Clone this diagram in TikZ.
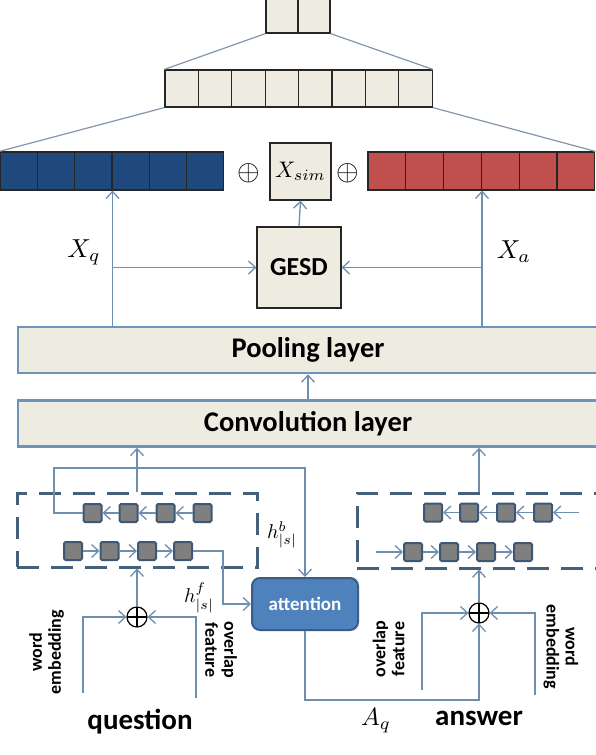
\documentclass[tikz,border=0pt]{standalone}
\usepackage{fontspec}
\setmainfont{Carlito}
\usepackage{tikz}
\usetikzlibrary{arrows.meta}
\definecolor{cellbg}{HTML}{EEECE1}
\definecolor{qblue}{HTML}{1F497D}
\definecolor{ared}{HTML}{C0504D}
\definecolor{linec}{HTML}{6F8FAF}
\definecolor{slantc}{HTML}{8497AA}
\definecolor{layerc}{HTML}{6F94BC}
\definecolor{sqfill}{HTML}{7F7F7F}
\definecolor{sqdraw}{HTML}{3D5874}
\definecolor{dashc}{HTML}{45607A}
\definecolor{attfill}{HTML}{4F81BD}
\definecolor{attdraw}{HTML}{385D8A}

\begin{document}
\begin{tikzpicture}[x=1pt,y=-1pt,
	arr/.style={draw=linec, line width=1.3pt, -{Straight Barb[length=7pt,width=13pt,line width=1.3pt]}},
	slant/.style={draw=slantc, line width=1.2pt},
	cell/.style={draw=black!85, line width=1.2pt, inner sep=0pt, minimum height=37pt},
	layer/.style={draw=layerc, line width=2.5pt, fill=cellbg, minimum width=580pt, minimum height=46pt, font=\fontsize{28.5}{32}\selectfont\bfseries},
	cellsq/.style={draw=sqdraw, line width=2pt, fill=sqfill, rounded corners=1.5pt, minimum size=18pt, inner sep=0pt},
	bilstm/.style={draw=dashc, line width=3pt, dash pattern=on 22pt off 12pt, inner sep=0pt},
	feat/.style={font=\fontsize{18}{19}\selectfont\bfseries, align=center, inner sep=0pt},
	title/.style={font=\fontsize{29}{32}\selectfont\bfseries, inner sep=0pt},
	lbl/.style={inner sep=0pt},
	sumnode/.style={draw=black, line width=1.2pt, circle, minimum size=20pt, inner sep=0pt,
		path picture={\draw[black, line width=1.2pt] (path picture bounding box.north) -- (path picture bounding box.south) (path picture bounding box.west) -- (path picture bounding box.east);}}]
	\path[use as bounding box, fill=white] (0,0) rectangle (596,755);
	% output layers
	\foreach \i in {1,2} \node[cell, fill=cellbg, minimum width=32pt, minimum height=34pt] (t\i) at (250+32*\i,16) {};
	\foreach \i in {1,...,8} \node[cell, fill=cellbg, minimum width=33.4pt] (m\i) at ({165+33.4*(\i-0.5)},88.5) {};
	\foreach \i in {1,...,6} \node[cell, fill=qblue, minimum width=37.3pt, minimum height=38pt] (xq\i) at ({37.3*(\i-0.5)},171) {};
	\foreach \i in {1,...,6} \node[cell, fill=ared, minimum width=37.8pt, minimum height=38pt] (xa\i) at ({368+37.8*(\i-0.5)},171) {};
	\draw[slant] (t1.south west) -- (m1.north west) (t2.south east) -- (m8.north east);
	\draw[slant] (m1.south west) -- (xq1.north west) (m8.south east) -- (xa6.north east);
	\node[cell, fill=cellbg, minimum width=61pt, minimum height=57pt] (xsim) at (300.5,171.5) {\scalebox{2.25}{$X_{sim}$}};
	\node[lbl] (op1) at (249,173) {\scalebox{2.9}{$\oplus$}};
	\node[lbl] (op2) at (348,173) {\scalebox{2.9}{$\oplus$}};
	% similarity and layers
	\node[cell, fill=cellbg, minimum width=84pt, minimum height=81pt, font=\fontsize{26}{30}\selectfont\bfseries] (gesd) at (299,267.5) {GESD};
	\node[layer] (pool) at (308,350) {Pooling layer};
	\node[layer] (conv) at (308,423.5) {Convolution layer};
	\draw[arr] (xq3.south east |- pool.north) -- (xq3.south east);
	\draw[arr] (xa3.south east |- pool.north) -- (xa3.south east);
	\draw[arr] (xq3.south east |- gesd.west) -- (gesd.west);
	\draw[arr] (xa3.south east |- gesd.east) -- (gesd.east);
	\draw[arr] (gesd.north) -- (xsim.south);
	\draw[arr] (conv.north) -- (pool.south);
	\node[lbl] (lxq) at (84,252) {\scalebox{2.6}{$X_q$}};
	\node[lbl] (lxa) at (514,252) {\scalebox{2.6}{$X_a$}};
	% biLSTM boxes
	\node[bilstm, minimum width=240pt, minimum height=74pt] (qbox) at (137,530) {};
	\node[bilstm, minimum width=245pt, minimum height=75pt] (abox) at (479.5,530.5) {};
	\foreach \x [count=\i] in {92.5,128.5,165.5,202.5} \node[cellsq] (qb\i) at (\x,513) {};
	\foreach \x [count=\i] in {73,109.5,147,183} \node[cellsq] (qf\i) at (\x,551) {};
	\foreach \x [count=\i] in {433,469,506,543} \node[cellsq] (ab\i) at (\x,512.5) {};
	\foreach \x [count=\i] in {413,449,486,523} \node[cellsq] (af\i) at (\x,552) {};
	\foreach \i/\j in {1/2,2/3,3/4} {\draw[arr] (qb\j) -- (qb\i); \draw[arr] (qf\i) -- (qf\j); \draw[arr] (ab\j) -- (ab\i); \draw[arr] (af\i) -- (af\j);}
	\coordinate (abin) at (579,512.5);
	\coordinate (afin) at (376,552);
	\draw[arr] (abin) -- (ab4);
	\draw[arr] (afin) -- (af1);
	% attention
	\node[draw=attdraw, fill=attfill, line width=2pt, rounded corners=8pt, minimum width=106pt, minimum height=52pt, text=white, font=\fontsize{19}{22}\selectfont\bfseries] (att) at (305,604) {attention};
	\coordinate (qtop) at (54,468);
	\draw[arr] (qb1.west) -| (qtop) -| (att.north);
	\draw[arr] (qf4.east) -- ++(30,0) |- (att.west);
	\node[lbl] (lhb) at (282,535) {\scalebox{2}{$h^b_{|s|}$}};
	\node[lbl] (lhf) at (199,598) {\scalebox{2}{$h^f_{|s|}$}};
	% inputs
	\node[sumnode] (qplus) at (137,617) {};
	\node[sumnode] (aplus) at (479,613) {};
	\draw[arr] (qplus |- qbox.north) -- (qplus |- conv.south);
	\draw[arr] (aplus |- abox.north) -- (aplus |- conv.south);
	\draw[arr] (qplus.north) -- (qplus |- qbox.south);
	\draw[arr] (aplus.north) -- (aplus |- abox.south);
	\coordinate (qwe) at (83,693);
	\coordinate (qov) at (196,698);
	\coordinate (aov) at (422,690);
	\coordinate (awe) at (535,695);
	\coordinate (aqturn) at (479,700);
	\draw[arr] (qwe) |- (qplus.west);
	\draw[arr] (qov) |- (qplus.east);
	\draw[arr] (aov) |- (aplus.west);
	\draw[arr] (awe) |- (aplus.east);
	\draw[arr] (att.south) |- (aqturn) -- (aplus.south);
	\node[feat, rotate=90] (lqwe) at (46.5,652) {word\\embedding};
	\node[feat, rotate=-90] (lqov) at (221,650) {overlap\\feature};
	\node[feat, rotate=90] (laov) at (388.5,649) {overlap\\feature};
	\node[feat, rotate=-90] (lawe) at (561,647) {word\\embedding};
	\node[lbl] (laq) at (376,721) {\scalebox{2.5}{$A_q$}};
	\node[title] (lq) at (140,722) {question};
	\node[title] (la) at (479,718) {answer};
\end{tikzpicture}
\end{document}
